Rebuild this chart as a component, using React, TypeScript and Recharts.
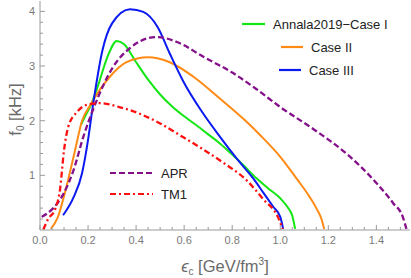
import { Line, LineChart, XAxis, YAxis } from 'recharts'

// f0 vs central energy density, one [eps_c, f0] list per EoS
const annalaCaseI: [number, number][] = [
  [0.17, 1.92], [0.19, 2.1], [0.21, 2.27], [0.24, 2.62], [0.28, 3.16], [0.32, 3.46],
  [0.35, 3.4], [0.4, 3.07], [0.45, 2.75], [0.5, 2.48], [0.55, 2.26], [0.6, 2.08],
  [0.65, 1.92], [0.7, 1.75], [0.75, 1.58], [0.8, 1.38], [0.85, 1.17], [0.9, 0.95],
  [0.95, 0.76], [1.0, 0.58], [1.03, 0.42], [1.05, 0.26], [1.062, 0.02],
]
const caseII: [number, number][] = [
  [0.045, 0.02], [0.073, 0.22], [0.11, 0.79], [0.146, 1.46], [0.175, 2.0], [0.21, 2.29],
  [0.29, 2.8], [0.36, 3.07], [0.45, 3.16], [0.54, 3.07], [0.64, 2.8], [0.75, 2.4],
  [0.86, 1.98], [0.92, 1.72], [1.0, 1.34], [1.07, 0.93], [1.12, 0.62], [1.15, 0.4],
  [1.17, 0.22], [1.183, 0.02],
]
const caseIII: [number, number][] = [
  [0.096, 0.27], [0.14, 0.6], [0.175, 1.04], [0.2, 1.65], [0.22, 2.27], [0.26, 3.29],
  [0.3, 3.78], [0.375, 4.04], [0.43, 3.99], [0.49, 3.71], [0.54, 3.23], [0.6, 2.69],
  [0.67, 2.19], [0.75, 1.7], [0.82, 1.3], [0.89, 0.93], [0.93, 0.68], [0.97, 0.43],
  [1.0, 0.24], [1.012, 0.02],
]
const apr: [number, number][] = [
  [0.007, 0.24], [0.055, 0.4], [0.1, 0.68], [0.14, 1.1], [0.18, 1.7], [0.225, 2.25],
  [0.305, 2.99], [0.375, 3.33], [0.45, 3.51], [0.49, 3.53], [0.57, 3.44], [0.68, 3.17],
  [0.8, 2.88], [0.9, 2.58], [1.0, 2.25], [1.14, 1.84], [1.28, 1.38], [1.4, 0.86],
  [1.47, 0.49], [1.51, 0.24], [1.525, 0.02],
]
const tm1: [number, number][] = [
  [0.014, 0.01], [0.035, 0.21], [0.062, 0.37], [0.083, 0.73], [0.1, 1.46], [0.117, 1.88],
  [0.154, 2.16], [0.195, 2.29], [0.25, 2.32], [0.33, 2.25], [0.43, 2.1], [0.5, 1.95],
  [0.58, 1.74], [0.67, 1.5], [0.76, 1.24], [0.86, 0.91], [0.93, 0.56], [0.99, 0.24], [1.01, 0.02],
]

const xTicks = [
  0, 0.05, 0.1, 0.15, 0.2, 0.25, 0.3, 0.35, 0.4, 0.45, 0.5, 0.55, 0.6, 0.65, 0.7, 0.75,
  0.8, 0.85, 0.9, 0.95, 1.0, 1.05, 1.1, 1.15, 1.2, 1.25, 1.3, 1.35, 1.4, 1.45, 1.5,
]
const xLabels = [0, 0.2, 0.4, 0.6, 0.8, 1.0, 1.2, 1.4]
const yTicks = [
  0.2, 0.4, 0.6, 0.8, 1, 1.2, 1.4, 1.6, 1.8, 2, 2.2, 2.4, 2.6, 2.8, 3, 3.2, 3.4, 3.6, 3.8, 4,
]
const yLabels = [1, 2, 3, 4]

const toPoints = (pts: [number, number][]) => pts.map(([x, y]) => ({ x, y }))

const FONT = '"Liberation Sans", Arial, sans-serif'
const FRAME = '#9a9a9a'
const TICK_TEXT = '#7a7a7a'
const TITLE = '#6a6a6a'

const isLabel = (list: number[], v: number) => list.some((l) => Math.abs(l - v) < 1e-6)

function BottomTick({ x, y, payload }: any) {
  const major = isLabel(xLabels, payload.value)
  return (
    <g>
      <line x1={x} x2={x} y1={y} y2={y - (major ? 5 : 3)} stroke={FRAME} />
      {major && (
        <text x={x} y={y + 14} textAnchor="middle" fontSize={11} fontFamily={FONT} fill={TICK_TEXT}>
          {payload.value.toFixed(1)}
        </text>
      )}
    </g>
  )
}

function TopTick({ x, y, payload }: any) {
  const major = isLabel(xLabels, payload.value)
  return <line x1={x} x2={x} y1={y} y2={y + (major ? 5 : 3)} stroke={FRAME} />
}

function LeftTick({ x, y, payload }: any) {
  const major = isLabel(yLabels, payload.value)
  return (
    <g>
      <line x1={x} x2={x + (major ? 5 : 3)} y1={y} y2={y} stroke={FRAME} />
      {major && (
        <text x={x - 5} y={y + 4} textAnchor="end" fontSize={11} fontFamily={FONT} fill={TICK_TEXT}>
          {payload.value}
        </text>
      )}
    </g>
  )
}

function RightTick({ x, y, payload }: any) {
  const major = isLabel(yLabels, payload.value)
  return <line x1={x} x2={x - (major ? 5 : 3)} y1={y} y2={y} stroke={FRAME} />
}

function XTitle({ viewBox }: any) {
  const cx = viewBox.x + viewBox.width / 2
  return (
    <text x={cx} y={viewBox.y + 42} textAnchor="middle" fontSize={16.5} fontFamily={FONT} fill={TITLE}>
      <tspan fontStyle="italic">ϵ</tspan>
      <tspan fontSize={10} dy={3}>c</tspan>
      <tspan dy={-3}> [GeV/fm</tspan>
      <tspan fontSize={10} dy={-7}>3</tspan>
      <tspan dy={7}>]</tspan>
    </text>
  )
}

function YTitle({ viewBox }: any) {
  const cy = viewBox.y + viewBox.height / 2 - 6
  return (
    <text
      transform={`translate(21, ${cy}) rotate(-90)`}
      textAnchor="middle"
      fontSize={16.5}
      fontFamily={FONT}
      fill={TITLE}
    >
      f<tspan fontSize={10} dy={3}>0</tspan>
      <tspan dy={-3}> [kHz]</tspan>
    </text>
  )
}

type Entry = { name: string; color: string; dash?: string }

function LegendRow({ entry, left, top, lineWidth }: { entry: Entry; left: number; top: number; lineWidth: number }) {
  return (
    <div style={{ position: 'absolute', left, top, display: 'flex', alignItems: 'center', height: 16 }}>
      <svg width={lineWidth} height={6}>
        <line x1={0} x2={lineWidth} y1={3} y2={3} stroke={entry.color} strokeWidth={2.2} strokeDasharray={entry.dash} />
      </svg>
      <span style={{ marginLeft: 8, fontFamily: FONT, fontSize: 13, color: '#222', whiteSpace: 'nowrap' }}>
        {entry.name}
      </span>
    </div>
  )
}

const series = [
  { name: 'Annala2019−Case I', data: annalaCaseI, color: '#14e614' },
  { name: 'Case II', data: caseII, color: '#ff8a14' },
  { name: 'Case III', data: caseIII, color: '#0a1af0' },
  { name: 'APR', data: apr, color: '#84108a', dash: '6 3' },
  { name: 'TM1', data: tm1, color: '#ff1010', dash: '6 3 2 3' },
]

export default function App() {
  return (
    <div style={{ position: 'absolute', left: 0, top: 0, width: 411, height: 278, background: '#fff' }}>
      <LineChart width={411} height={278} margin={{ top: 1, right: 1, left: 0, bottom: 0 }}>
        <XAxis
          dataKey="x"
          type="number"
          domain={[0, 1.54]}
          allowDataOverflow
          ticks={xTicks}
          interval={0}
          height={48}
          tickSize={0}
          tickMargin={0}
          tickLine={false}
          axisLine={{ stroke: FRAME }}
          tick={<BottomTick />}
          label={<XTitle />}
        />
        <XAxis
          xAxisId="top"
          orientation="top"
          type="number"
          domain={[0, 1.54]}
          allowDataOverflow
          ticks={xTicks}
          interval={0}
          height={0}
          tickSize={0}
          tickMargin={0}
          tickLine={false}
          axisLine={{ stroke: FRAME }}
          tick={<TopTick />}
        />
        <YAxis
          type="number"
          domain={[0, 4.19]}
          allowDataOverflow
          ticks={yTicks}
          interval={0}
          width={40}
          tickSize={0}
          tickMargin={0}
          tickLine={false}
          axisLine={{ stroke: FRAME }}
          tick={<LeftTick />}
          label={<YTitle />}
        />
        <YAxis
          yAxisId="right"
          orientation="right"
          type="number"
          domain={[0, 4.19]}
          allowDataOverflow
          ticks={yTicks}
          interval={0}
          width={0}
          tickSize={0}
          tickMargin={0}
          tickLine={false}
          axisLine={{ stroke: FRAME }}
          tick={<RightTick />}
        />
        {series.map((s) => (
          <Line
            key={s.name}
            data={toPoints(s.data)}
            dataKey="y"
            type="monotone"
            stroke={s.color}
            strokeWidth={s.dash ? 2.3 : 2}
            strokeDasharray={s.dash}
            dot={false}
            activeDot={false}
            isAnimationActive={false}
          />
        ))}
      </LineChart>
      <LegendRow entry={series[0]} left={242} top={16} lineWidth={23} />
      <LegendRow entry={series[1]} left={281} top={39} lineWidth={22} />
      <LegendRow entry={series[2]} left={279} top={62} lineWidth={22} />
      <LegendRow entry={series[3]} left={110} top={165} lineWidth={43} />
      <LegendRow entry={series[4]} left={110} top={186} lineWidth={43} />
    </div>
  )
}
